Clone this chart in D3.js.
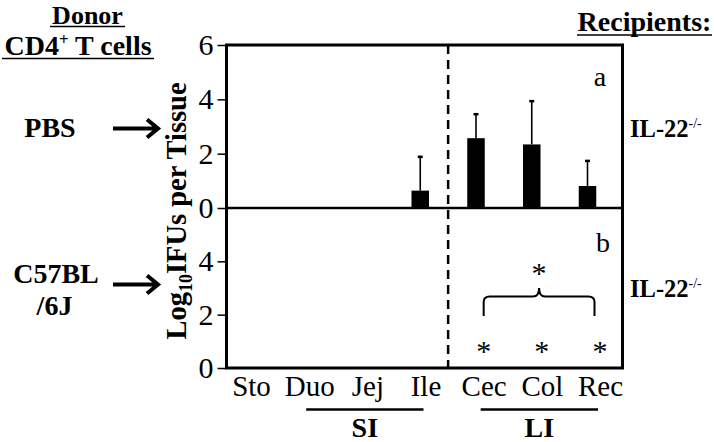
<!DOCTYPE html>
<html>
<head>
<meta charset="utf-8">
<script src="https://cdn.jsdelivr.net/npm/d3@7"></script>
<style>
  html, body { margin: 0; padding: 0; background: #fff; }
  svg { display: block; }
  text { font-family: "Liberation Serif", "Times New Roman", serif; fill: #000; }
</style>
</head>
<body>
<svg id="chart" width="714" height="442"></svg>
<script>
// ---- data ----
const categories = ["Sto", "Duo", "Jej", "Ile", "Cec", "Col", "Rec"];
const pbsMeans   = [0, 0, 0, 0.64, 2.57, 2.34, 0.81];
const pbsErrors  = [0, 0, 0, 1.28, 0.92, 1.63, 0.96];
const c57Means   = [0, 0, 0, 0, 0, 0, 0];
const c57Errors  = [0, 0, 0, 0, 0, 0, 0];
const c57Signif  = ["Cec", "Col", "Rec"];
const topTicks   = [0, 2, 4, 6];
const bottomTicks = [0, 2, 4];
const regionSI = ["Duo", "Ile"];
const regionLI = ["Cec", "Rec"];

(function () {
const svg = d3.select("#chart");
const pLeft = 226.5, pRight = 622.5, pTop = 45, pMid = 208, pBottom = 368;

const xBar = d3.scalePoint().domain(categories).range([253, 587.5]);
const xLab = d3.scalePoint().domain(categories).range([251, 600]);
const yTop = d3.scaleLinear().domain([0, 6]).range([pMid, pTop]);
const yBot = d3.scaleLinear().domain([0, 6]).range([pBottom, pMid]);
const barW = 17.5;

function drawPanel(y, means, errs) {
  const data = categories.map((c, i) => ({ c, m: means[i], e: errs[i] }));
  const g = svg.append("g");
  g.selectAll("rect").data(data.filter(d => d.m > 0)).join("rect")
    .attr("x", d => xBar(d.c) - barW / 2)
    .attr("width", barW)
    .attr("y", d => y(d.m))
    .attr("height", d => y(0) - y(d.m))
    .attr("fill", "#000");
  const eb = data.filter(d => d.e > 0);
  g.selectAll("line.err").data(eb).join("line").attr("class", "err")
    .attr("x1", d => xBar(d.c)).attr("x2", d => xBar(d.c))
    .attr("y1", d => y(d.m)).attr("y2", d => y(d.m + d.e))
    .attr("stroke", "#000").attr("stroke-width", 1.6);
  g.selectAll("line.cap").data(eb).join("line").attr("class", "cap")
    .attr("x1", d => xBar(d.c) - 2.5).attr("x2", d => xBar(d.c) + 2.5)
    .attr("y1", d => y(d.m + d.e) + 1).attr("y2", d => y(d.m + d.e) + 1)
    .attr("stroke", "#000").attr("stroke-width", 2.5);
}
drawPanel(yTop, pbsMeans, pbsErrors);
drawPanel(yBot, c57Means, c57Errors);

// dashed divider between SI and LI
const divX = (xBar("Ile") + xBar("Cec")) / 2;
svg.append("line")
  .attr("x1", divX).attr("x2", divX).attr("y1", pTop).attr("y2", pBottom)
  .attr("stroke", "#000").attr("stroke-width", 2.5).attr("stroke-dasharray", "9,6");

// frame
svg.append("rect").attr("x", pLeft).attr("y", pTop)
  .attr("width", pRight - pLeft).attr("height", pBottom - pTop)
  .attr("fill", "none").attr("stroke", "#000").attr("stroke-width", 3);
svg.append("line").attr("x1", pLeft).attr("x2", pRight).attr("y1", pMid).attr("y2", pMid)
  .attr("stroke", "#000").attr("stroke-width", 2.5);

// y axes
function styleAxis(g) {
  g.select(".domain").remove();
  g.selectAll(".tick line").attr("stroke-width", 1.5);
  g.selectAll(".tick text").style("font-family", "'Liberation Serif', serif").style("font-size", "30px");
}
svg.append("g").attr("transform", `translate(${pLeft},0)`)
  .call(d3.axisLeft(yTop).tickValues(topTicks).tickFormat(d3.format("d")).tickSize(9).tickPadding(4))
  .call(styleAxis);
svg.append("g").attr("transform", `translate(${pLeft},0)`)
  .call(d3.axisLeft(yBot).tickValues(bottomTicks).tickFormat(d3.format("d")).tickSize(9).tickPadding(4))
  .call(styleAxis);

// x labels
const xg = svg.append("g").attr("transform", `translate(0,${pBottom})`)
  .call(d3.axisBottom(xLab).tickSize(0).tickPadding(0));
xg.select(".domain").remove();
xg.selectAll(".tick text").attr("dy", null).attr("y", 28)
  .style("font-family", "'Liberation Serif', serif").style("font-size", "29px");

// region underlines + labels
function region(r, label) {
  const x1 = xLab(r[0]) - 3, x2 = xLab(r[1]) - 2;
  svg.append("line").attr("x1", x1).attr("x2", x2).attr("y1", 409.5).attr("y2", 409.5)
    .attr("stroke", "#000").attr("stroke-width", 2.5);
  svg.append("text").attr("x", (x1 + x2) / 2).attr("y", 437)
    .attr("text-anchor", "middle").attr("font-weight", "bold").attr("font-size", 28)
    .text(label);
}
region(regionSI, "SI");
region(regionLI, "LI");

// panel letters
svg.append("text").attr("x", 600).attr("y", 86).attr("text-anchor", "middle").attr("font-size", 28).text("a");
svg.append("text").attr("x", 603).attr("y", 252).attr("text-anchor", "middle").attr("font-size", 28).text("b");

// significance asterisks
svg.selectAll("text.star").data(c57Signif).join("text").attr("class", "star")
  .attr("x", d => xLab(d)).attr("y", 361).attr("text-anchor", "middle").attr("font-size", 30).text("*");
const bx1 = xLab(c57Signif[0]), bx2 = xLab(c57Signif[c57Signif.length - 1]) - 5.5;
const bm = (bx1 + bx2) / 2, by = 296.5;
svg.append("path")
  .attr("d", `M${bx1},316 L${bx1},302 Q${bx1},${by} ${bx1 + 6},${by} L${bm - 6},${by} Q${bm},${by} ${bm},288 Q${bm},${by} ${bm + 6},${by} L${bx2 - 6},${by} Q${bx2},${by} ${bx2},302 L${bx2},316`)
  .attr("fill", "none").attr("stroke", "#000").attr("stroke-width", 2);
svg.append("text").attr("x", bm).attr("y", 283).attr("text-anchor", "middle").attr("font-size", 30).text("*");

// y axis title
const yt = svg.append("text").attr("transform", "translate(186,211) rotate(-90)")
  .attr("text-anchor", "middle").attr("font-weight", "bold").attr("font-size", 28.5);
yt.append("tspan").text("Log");
yt.append("tspan").attr("font-size", 18).attr("dy", 6).text("10");
yt.append("tspan").attr("dy", -6).text("IFUs per Tissue");

// left header
svg.append("text").attr("x", 87.5).attr("y", 24).attr("text-anchor", "middle")
  .attr("font-weight", "bold").attr("font-size", 26).text("Donor");
const cd4 = svg.append("text").attr("x", 78).attr("y", 55).attr("text-anchor", "middle")
  .attr("font-weight", "bold").attr("font-size", 28);
cd4.append("tspan").text("CD4");
cd4.append("tspan").attr("font-size", 17).attr("dy", -10).text("+");
cd4.append("tspan").attr("dy", 10).text(" T cells");
svg.append("line").attr("x1", 2).attr("x2", 154).attr("y1", 58.5).attr("y2", 58.5).attr("stroke", "#000").attr("stroke-width", 1.5);
svg.append("line").attr("x1", 50).attr("x2", 125).attr("y1", 26.5).attr("y2", 26.5).attr("stroke", "#000").attr("stroke-width", 1.5);

// recipients header
svg.append("text").attr("x", 644.5).attr("y", 31).attr("text-anchor", "middle")
  .attr("font-weight", "bold").attr("font-size", 28).text("Recipients:");
svg.append("line").attr("x1", 577).attr("x2", 712).attr("y1", 35).attr("y2", 35).attr("stroke", "#000").attr("stroke-width", 1.5);

// group labels
svg.append("text").attr("x", 50).attr("y", 137).attr("text-anchor", "middle")
  .attr("font-weight", "bold").attr("font-size", 28).text("PBS");
svg.append("text").attr("x", 56).attr("y", 283).attr("text-anchor", "middle")
  .attr("font-weight", "bold").attr("font-size", 28).text("C57BL");
svg.append("text").attr("x", 54.5).attr("y", 315).attr("text-anchor", "middle")
  .attr("font-weight", "bold").attr("font-size", 28).text("/6J");

function arrow(y) {
  svg.append("path").attr("d", `M113,${y} L157,${y} M147,${y - 9} L158,${y} L147,${y + 9}`)
    .attr("fill", "none").attr("stroke", "#000").attr("stroke-width", 4).attr("stroke-linejoin", "miter");
}
arrow(128.5);
arrow(284.5);

// IL-22 labels
function il22(y) {
  const t = svg.append("text").attr("x", 630).attr("y", y).attr("font-weight", "bold").attr("font-size", 24.5);
  t.append("tspan").text("IL-22");
  t.append("tspan").attr("font-size", 14).attr("font-weight", "normal").attr("dy", -9).text("-/-");
}
il22(137);
il22(297);
})();
</script>
</body>
</html>
